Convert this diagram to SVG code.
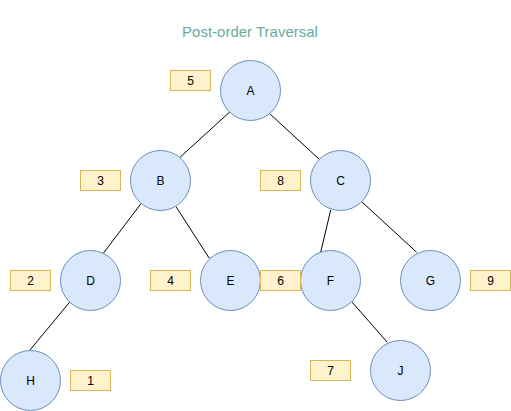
<svg xmlns="http://www.w3.org/2000/svg" width="511" height="411" viewBox="0 0 511 411">
<style>
.n{fill:#dae8fc;stroke:#6c8ebf;stroke-width:1}
.b{fill:#fff2cc;stroke:#d6b656;stroke-width:1}
.t{font-family:"Liberation Sans",Arial,sans-serif;font-size:12px;fill:#000;text-anchor:middle;dominant-baseline:central}
.e{stroke:#000;stroke-width:1;fill:none}
.title{font-family:"Liberation Sans",Arial,sans-serif;font-size:15px;fill:#67ab9f;text-anchor:middle}
</style>
<rect width="511" height="411" fill="#fff"/>
<text class="title" x="250" y="36.5">Post-order Traversal</text>
<g id="edges">
<line class="e" x1="230" y1="111.7" x2="180" y2="157.3"/>
<line class="e" x1="270" y1="114" x2="319.3" y2="159.3"/>
<line class="e" x1="140.7" y1="204" x2="103.3" y2="253.3"/>
<line class="e" x1="176" y1="206.7" x2="209.3" y2="258.3"/>
<line class="e" x1="330.7" y1="210" x2="320.7" y2="252.3"/>
<line class="e" x1="361.7" y1="201.7" x2="416.7" y2="252.3"/>
<line class="e" x1="70" y1="301.7" x2="30" y2="350"/>
<line class="e" x1="351.7" y1="301.7" x2="387.3" y2="342.3"/>
</g>
<g id="node-A"><circle class="n" cx="250.5" cy="90.5" r="30"/><text class="t" x="250.5" y="90.5">A</text></g>
<g id="node-B"><circle class="n" cx="160.5" cy="180.5" r="30"/><text class="t" x="160.5" y="180.5">B</text></g>
<g id="node-C"><circle class="n" cx="340.5" cy="180.5" r="30"/><text class="t" x="340.5" y="180.5">C</text></g>
<g id="node-D"><circle class="n" cx="90.5" cy="280.5" r="30"/><text class="t" x="90.5" y="280.5">D</text></g>
<g id="node-E"><circle class="n" cx="230.5" cy="280.5" r="30"/><text class="t" x="230.5" y="280.5">E</text></g>
<g id="node-F"><circle class="n" cx="330.5" cy="280.5" r="30"/><text class="t" x="330.5" y="280.5">F</text></g>
<g id="node-G"><circle class="n" cx="430.5" cy="280.5" r="30"/><text class="t" x="430.5" y="280.5">G</text></g>
<g id="node-H"><circle class="n" cx="30.5" cy="380.5" r="30"/><text class="t" x="30.5" y="380.5">H</text></g>
<g id="node-J"><circle class="n" cx="400.5" cy="370.5" r="30"/><text class="t" x="400.5" y="370.5">J</text></g>
<g id="label-5"><rect class="b" x="170.5" y="70.5" width="40" height="20"/><text class="t" x="190.5" y="80.5">5</text></g>
<g id="label-3"><rect class="b" x="80.5" y="170.5" width="40" height="20"/><text class="t" x="100.5" y="180.5">3</text></g>
<g id="label-8"><rect class="b" x="260.5" y="170.5" width="40" height="20"/><text class="t" x="280.5" y="180.5">8</text></g>
<g id="label-2"><rect class="b" x="10.5" y="270.5" width="40" height="20"/><text class="t" x="30.5" y="280.5">2</text></g>
<g id="label-4"><rect class="b" x="150.5" y="270.5" width="40" height="20"/><text class="t" x="170.5" y="280.5">4</text></g>
<g id="label-6"><rect class="b" x="260.5" y="270.5" width="40" height="20"/><text class="t" x="280.5" y="280.5">6</text></g>
<g id="label-9"><rect class="b" x="470.5" y="270.5" width="40" height="20"/><text class="t" x="490.5" y="280.5">9</text></g>
<g id="label-1"><rect class="b" x="70.5" y="370.5" width="40" height="20"/><text class="t" x="90.5" y="380.5">1</text></g>
<g id="label-7"><rect class="b" x="310.5" y="360.5" width="40" height="20"/><text class="t" x="330.5" y="370.5">7</text></g>
</svg>
